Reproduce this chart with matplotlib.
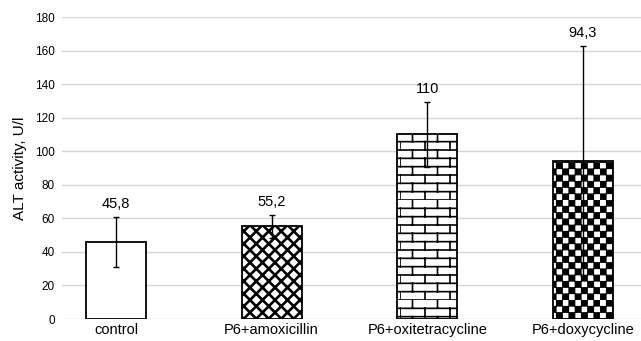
import warnings
warnings.filterwarnings("ignore")
import numpy as np
import matplotlib
matplotlib.use("Agg")
import matplotlib.pyplot as plt
import matplotlib.hatch as mhatch
from matplotlib.path import Path

categories = ["control", "P6+amoxicillin", "P6+oxitetracycline", "P6+doxycycline"]
means = [45.8, 55.2, 110.0, 94.3]
errors = [15.0, 7.0, 19.5, 68.5]
value_labels = ["45,8", "55,2", "110", "94,3"]
yticks = [0, 20, 40, 60, 80, 100, 120, 140, 160, 180]


class CrossHatch(mhatch.HatchPatternBase):
    def __init__(self, hatch, density):
        self.n = 8 if "D" in hatch else 0
        self.num_vertices = (2 * self.n + 1) * 4 if self.n else 0

    def set_vertices_and_codes(self, vertices, codes):
        n = self.n
        k = 0
        for i in range(-n, n + 1):
            c = i / n
            vertices[k] = (0.0, c)
            vertices[k + 1] = (1.0, 1.0 + c)
            k += 2
        for i in range(0, 2 * n + 1):
            c = i / n
            vertices[k] = (0.0, c)
            vertices[k + 1] = (1.0, c - 1.0)
            k += 2
        codes[0::2] = Path.MOVETO
        codes[1::2] = Path.LINETO


class BrickHatch(mhatch.HatchPatternBase):
    def __init__(self, hatch, density):
        self.rows = 12 if "B" in hatch else 0
        self.cols = 4
        self.num_vertices = self.rows * 2 * (1 + self.cols) if self.rows else 0

    def set_vertices_and_codes(self, vertices, codes):
        k = 0
        for r in range(self.rows):
            y0 = r / self.rows
            y1 = (r + 1) / self.rows
            vertices[k] = (0.0, y0)
            vertices[k + 1] = (1.0, y0)
            k += 2
            off = 0.5 / self.cols if r % 2 else 0.0
            for c in range(self.cols):
                x = c / self.cols + off
                vertices[k] = (x, y0)
                vertices[k + 1] = (x, y1)
                k += 2
        codes[0::2] = Path.MOVETO
        codes[1::2] = Path.LINETO


class CheckHatch(mhatch.HatchPatternBase):
    def __init__(self, hatch, density):
        self.n = 16 if "C" in hatch else 0
        self.num_vertices = (self.n * self.n // 2) * 5 if self.n else 0

    def set_vertices_and_codes(self, vertices, codes):
        s = 1.0 / self.n
        e = 0.002
        k = 0
        for i in range(self.n):
            for j in range(self.n):
                if (i + j) % 2 == 0:
                    x0, y0 = i * s + e, j * s + e
                    x1, y1 = (i + 1) * s - e, (j + 1) * s - e
                    vertices[k:k + 5] = [(x0, y0), (x1, y0), (x1, y1), (x0, y1), (x0, y0)]
                    codes[k:k + 5] = [Path.MOVETO, Path.LINETO, Path.LINETO, Path.LINETO, Path.CLOSEPOLY]
                    k += 5


mhatch._hatch_types.extend([CrossHatch, BrickHatch, CheckHatch])

plt.rcParams["font.family"] = ["Liberation Sans", "DejaVu Sans"]
plt.rcParams["hatch.linewidth"] = 1.3
plt.rcParams["hatch.color"] = "black"

fig = plt.figure(figsize=(6.41, 3.41), dpi=100)
ax = fig.add_axes([62 / 641, 1 - 319 / 341, 1 - 62 / 641, (319 - 17) / 341])

x = np.arange(len(categories))
hatches = ["", "D", "B", "C"]
hatch_lw = [1.0, 1.9, 1.2, 0.8]
bars = ax.bar(x, means, width=0.386, color="white", edgecolor="black",
              linewidth=1.3, zorder=3)
for b, h, lw in zip(bars, hatches, hatch_lw):
    b.set_hatch(h)
    if hasattr(b, "set_hatch_linewidth"):
        b.set_hatch_linewidth(lw)
ax.errorbar(x, means, yerr=errors, fmt="none", ecolor="black", elinewidth=1.0,
            capsize=2.5, capthick=1.0, zorder=4)
for xi, m, e, lab in zip(x, means, errors, value_labels):
    ax.annotate(lab, (xi, m + e), xytext=(0, 4), textcoords="offset points",
                ha="center", va="bottom", fontsize=10.5)

ax.set_xlim(-0.347, 3.374)
ax.set_ylim(0, 180)
ax.set_yticks(yticks)
ax.set_yticklabels([str(t) for t in yticks], fontsize=8.5)
ax.set_xticks(x)
ax.set_xticklabels(categories, fontsize=10.5)
ax.tick_params(axis="both", length=0)
ax.tick_params(axis="y", pad=5)
ax.tick_params(axis="x", pad=3)
ax.yaxis.grid(True, color="#d4d4d4", linewidth=1.0, zorder=0)
ax.set_axisbelow(True)
for s in ax.spines.values():
    s.set_visible(False)
ax.set_ylabel("ALT activity, U/l", fontsize=11, labelpad=6)

fig.savefig("out.png", dpi=100)
